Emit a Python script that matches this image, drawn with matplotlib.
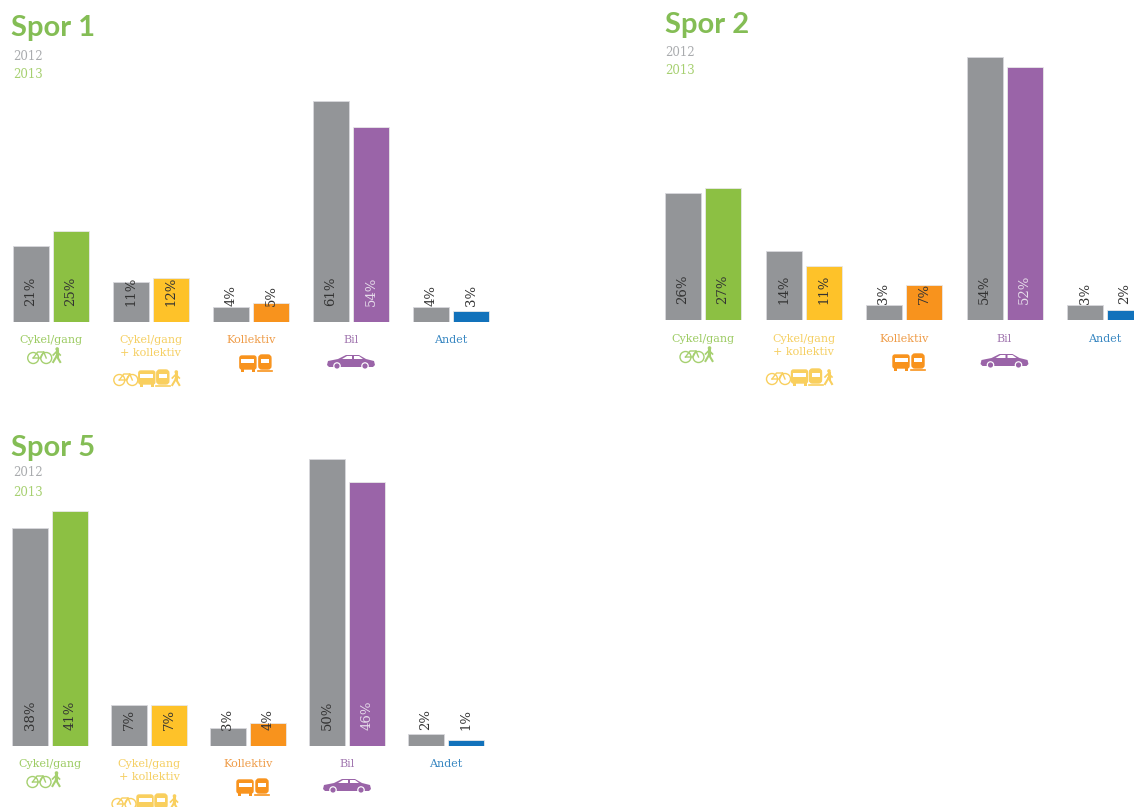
import matplotlib
matplotlib.use("Agg")
import matplotlib.pyplot as plt
from matplotlib.patches import Circle, FancyBboxPatch, Polygon, Rectangle

W, H = 1134, 807

categories = ["Cykel/gang", "Cykel/gang\n+ kollektiv", "Kollektiv", "Bil", "Andet"]
spor1_2012 = [21, 11, 4, 61, 4]
spor1_2013 = [25, 12, 5, 54, 3]
spor2_2012 = [26, 14, 3, 54, 3]
spor2_2013 = [27, 11, 7, 52, 2]
spor5_2012 = [38, 7, 3, 50, 2]
spor5_2013 = [41, 7, 4, 46, 1]

GRAY = "#939598"
colors = ["#8cc043", "#fec229", "#f8931d", "#9a64a8", "#1272bb"]
label_colors = ["#9ccb62", "#f5cf62", "#ef9c48", "#a277b0", "#3a88c2"]
icon_colors = ["#a6d070", "#f9cf5e", "#f8931d", "#9a64a8"]
TITLE_GREEN = "#84bd55"
SERIF = "DejaVu Serif"


def bike(ov, x, y, c):
    # x, y = centre of the bike
    for dx in (-6.5, 6.5):
        ov.add_patch(Circle((x + dx, y + 2), 5.5, fill=False, ec=c, lw=1))
    ov.plot([x - 6.5, x - 2, x + 4, x + 6.5], [y + 2, y - 4, y - 4, y + 2], color=c, lw=1)
    ov.plot([x - 6.5, x + 1, x + 4], [y + 2, y + 2, y - 4], color=c, lw=1)


def walker(ov, x, y, c):
    ov.add_patch(Circle((x + 0.5, y - 6), 1.8, color=c, lw=0))
    ov.plot([x, x], [y - 4, y + 1], color=c, lw=2.2)
    ov.plot([x, x - 3.5], [y + 1, y + 7], color=c, lw=1.5)
    ov.plot([x, x + 3.5], [y + 1, y + 7], color=c, lw=1.5)
    ov.plot([x - 3.5, x, x + 3.5], [y, y - 3.5, y], color=c, lw=1.2)


def bus(ov, x, y, c):
    ov.add_patch(FancyBboxPatch((x - 8, y - 7), 16, 13, boxstyle="round,pad=0,rounding_size=2", fc=c, ec=c, lw=1))
    ov.add_patch(Rectangle((x - 6.5, y - 4), 13, 3.5, fc="white", ec="none"))
    ov.add_patch(Rectangle((x - 7, y + 6), 3, 2.5, fc=c, ec="none"))
    ov.add_patch(Rectangle((x + 4, y + 6), 3, 2.5, fc=c, ec="none"))


def train(ov, x, y, c):
    ov.add_patch(FancyBboxPatch((x - 6, y - 8), 12, 14, boxstyle="round,pad=0,rounding_size=3", fc=c, ec=c, lw=1))
    ov.add_patch(Rectangle((x - 4, y - 4), 8, 3.5, fc="white", ec="none"))
    ov.plot([x - 7, x + 7], [y + 8, y + 8], color=c, lw=1.2)


def car(ov, x, y, c):
    body = [(-24, 3), (-23, -1), (-13, -3), (-5, -7), (8, -7), (15, -3), (23, -1), (24, 3), (22, 5), (-22, 5)]
    ov.add_patch(Polygon([(x + a, y + b) for a, b in body], fc=c, ec="none"))
    ov.add_patch(Polygon([(x - 9, y - 3), (-4 + x, y - 6), (x + 1, y - 6), (x + 1, y - 3)], fc="white", ec="none"))
    ov.add_patch(Polygon([(x + 3, y - 3), (x + 3, y - 6), (x + 8, y - 6), (x + 12, y - 3)], fc="white", ec="none"))
    for dx in (-14, 14):
        ov.add_patch(Circle((x + dx, y + 4), 3.8, fc="white", ec="none"))
        ov.add_patch(Circle((x + dx, y + 4), 2.6, fc=c, ec="none"))


def panel(fig, ov, title, title_xy, legend_x, legend_ys, v2012, v2013,
          first_center, pitch, base, px_per_pct, label_y):
    # axes spans the panel in pixels, baseline at the bottom edge
    x0, x1 = first_center - 51, min(first_center + 449, W)
    top = 0 if base < 400 else 400
    height = base - top
    ax = fig.add_axes([x0 / W, 1 - base / H, (x1 - x0) / W, height / H])
    ax.set_xlim((x0 - first_center) / pitch, (x1 - first_center) / pitch)
    ax.set_ylim(0, height / px_per_pct)
    ax.axis("off")
    ax.patch.set_alpha(0)

    bw = 36 / pitch
    off = 20 / pitch
    for i in range(len(categories)):
        ax.bar(i - off, v2012[i], bw, color=GRAY, edgecolor="#d8d8dc", linewidth=0.6)
        ax.bar(i + off, v2013[i], bw, color=colors[i], edgecolor="#e8e8e8", linewidth=0.6)
        for xpos, val, col in ((i - off, v2012[i], "#333333"),
                               (i + off, v2013[i], "#e6dcea" if i == 3 else "#333333")):
            ax.annotate(f"{val}%", (xpos, 0), xytext=(0, 15), textcoords="offset pixels",
                        rotation=90, ha="center", va="bottom", color=col,
                        fontsize=9.5, family=SERIF, annotation_clip=False)

    ov.text(title_xy[0], title_xy[1], title, color=TITLE_GREEN, fontsize=21,
            fontweight="bold", family="Lato", va="center", ha="left")
    ov.text(legend_x, legend_ys[0], "2012", color="#a9abae", fontsize=8.5, family=SERIF, va="center")
    ov.text(legend_x, legend_ys[1], "2013", color="#a6d070", fontsize=8.5, family=SERIF, va="center")

    for i, cat in enumerate(categories):
        cx = first_center + pitch * i
        ov.text(cx, label_y, cat, color=label_colors[i], fontsize=8, family=SERIF,
                ha="center", va="top", linespacing=1.35)
    ly = label_y
    bike(ov, first_center - 11, ly + 21, icon_colors[0])
    walker(ov, first_center + 6, ly + 20, icon_colors[0])
    c1 = first_center + pitch
    bike(ov, c1 - 25, ly + 43, icon_colors[1])
    bus(ov, c1 - 4, ly + 43, icon_colors[1])
    train(ov, c1 + 12, ly + 43, icon_colors[1])
    walker(ov, c1 + 25, ly + 43, icon_colors[1])
    c2 = first_center + pitch * 2
    bus(ov, c2 - 3, ly + 28, icon_colors[2])
    train(ov, c2 + 14, ly + 28, icon_colors[2])
    car(ov, first_center + pitch * 3, ly + 27, icon_colors[3])


fig = plt.figure(figsize=(W / 100, H / 100), dpi=100, facecolor="white")
overlay = fig.add_axes([0, 0, 1, 1], zorder=5)
overlay.set_xlim(0, W)
overlay.set_ylim(H, 0)
overlay.axis("off")
overlay.patch.set_alpha(0)

panel(fig, overlay, "Spor 1", (11, 28), 13, (57, 75), spor1_2012, spor1_2013, 50.7, 100.1, 321.5, 3.61, 335)
panel(fig, overlay, "Spor 2", (665, 25), 665, (52, 71), spor2_2012, spor2_2013, 703, 100.5, 319.5, 4.86, 334)
panel(fig, overlay, "Spor 5", (11, 448), 13, (473, 492), spor5_2012, spor5_2013, 50, 99, 745.5, 5.73, 759)

fig.savefig("out.png", dpi=100)
